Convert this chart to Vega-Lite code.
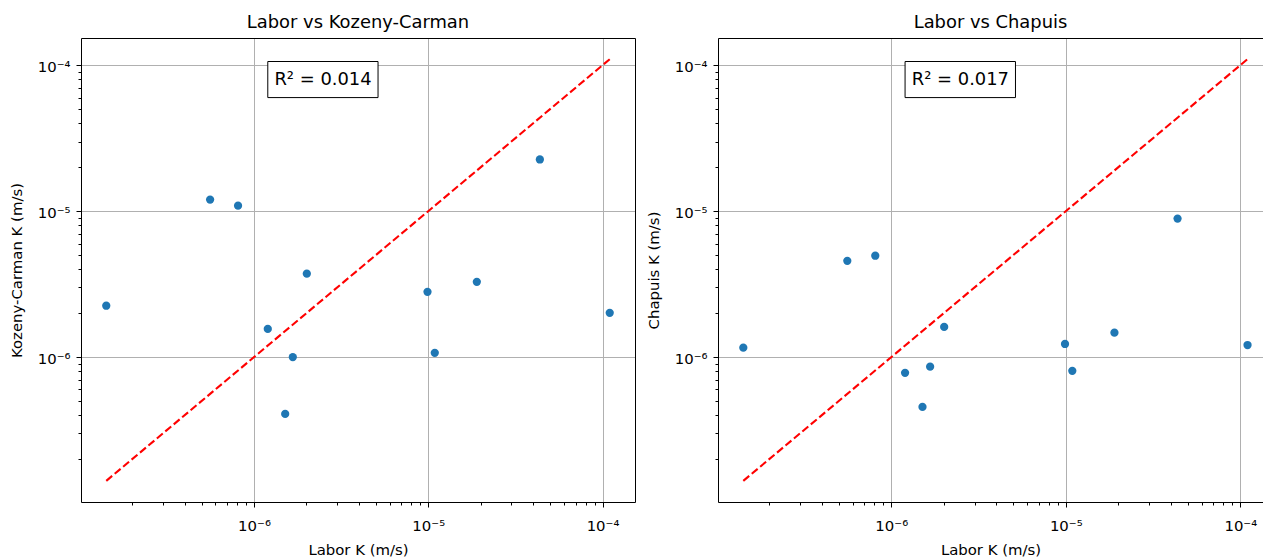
{
  "$schema": "https://vega.github.io/schema/vega-lite/v6.json",
  "padding": {"left": 9, "top": 14, "right": 0, "bottom": 0},
  "spacing": 11,
  "datasets": {
    "points": [
      {"model": "Kozeny-Carman", "labor": 1.42e-7, "k": 2.25e-6},
      {"model": "Kozeny-Carman", "labor": 5.6e-7, "k": 1.2e-5},
      {"model": "Kozeny-Carman", "labor": 8.1e-7, "k": 1.09e-5},
      {"model": "Kozeny-Carman", "labor": 1.2e-6, "k": 1.56e-6},
      {"model": "Kozeny-Carman", "labor": 2.01e-6, "k": 3.73e-6},
      {"model": "Kozeny-Carman", "labor": 1.67e-6, "k": 1.0e-6},
      {"model": "Kozeny-Carman", "labor": 1.51e-6, "k": 4.08e-7},
      {"model": "Kozeny-Carman", "labor": 9.9e-6, "k": 2.8e-6},
      {"model": "Kozeny-Carman", "labor": 1.09e-5, "k": 1.07e-6},
      {"model": "Kozeny-Carman", "labor": 1.9e-5, "k": 3.28e-6},
      {"model": "Kozeny-Carman", "labor": 4.37e-5, "k": 2.26e-5},
      {"model": "Kozeny-Carman", "labor": 1.1e-4, "k": 2.01e-6},
      {"model": "Chapuis", "labor": 1.42e-7, "k": 1.16e-6},
      {"model": "Chapuis", "labor": 5.6e-7, "k": 4.57e-6},
      {"model": "Chapuis", "labor": 8.1e-7, "k": 4.95e-6},
      {"model": "Chapuis", "labor": 1.2e-6, "k": 7.8e-7},
      {"model": "Chapuis", "labor": 2.01e-6, "k": 1.61e-6},
      {"model": "Chapuis", "labor": 1.67e-6, "k": 8.6e-7},
      {"model": "Chapuis", "labor": 1.51e-6, "k": 4.56e-7},
      {"model": "Chapuis", "labor": 9.9e-6, "k": 1.23e-6},
      {"model": "Chapuis", "labor": 1.09e-5, "k": 8.05e-7},
      {"model": "Chapuis", "labor": 1.9e-5, "k": 1.47e-6},
      {"model": "Chapuis", "labor": 4.37e-5, "k": 8.89e-6},
      {"model": "Chapuis", "labor": 1.1e-4, "k": 1.21e-6}
    ],
    "line": [
      {"x": 1.42e-7, "y": 1.42e-7},
      {"x": 1.1e-4, "y": 1.1e-4}
    ],
    "ann": [
      {"model": "Kozeny-Carman", "label": "R² = 0.014", "x": 2.49e-6, "y": 7.97e-5, "x1": 1.2e-6, "x2": 5.15e-6, "y1": 6.0e-5, "y2": 1.06e-4},
      {"model": "Chapuis", "label": "R² = 0.017", "x": 2.49e-6, "y": 7.97e-5, "x1": 1.2e-6, "x2": 5.15e-6, "y1": 6.0e-5, "y2": 1.06e-4}
    ]
  },
  "hconcat": [
    {
      "width": 554,
      "height": 464,
      "title": {"text": "Labor vs Kozeny-Carman"},
      "resolve": {"axis": {"x": "independent", "y": "independent"}},
      "layer": [
        {
          "data": {"name": "points"},
          "transform": [{"filter": "datum.model === 'Kozeny-Carman'"}],
          "mark": {"type": "circle", "size": 68, "opacity": 1, "color": "#1f77b4"},
          "encoding": {
            "x": {"field": "labor", "type": "quantitative",
              "scale": {"type": "log", "domain": [1.017e-7, 1.536e-4], "nice": false},
              "axis": {"orient": "bottom", "values": [1e-6, 1e-5, 1e-4], "grid": true, "title": "Labor K (m/s)", "labelPadding": 11, "titlePadding": 10,
                "labelExpr": "datum.value < 3e-6 ? '10⁻⁶' : datum.value < 3e-5 ? '10⁻⁵' : '10⁻⁴'"}},
            "y": {"field": "k", "type": "quantitative",
              "scale": {"type": "log", "domain": [1.017e-7, 1.536e-4], "nice": false},
              "axis": {"orient": "left", "values": [1e-6, 1e-5, 1e-4], "grid": true, "title": "Kozeny-Carman K (m/s)", "labelPadding": 6, "labelOffset": 2, "titlePadding": 13,
                "labelExpr": "datum.value < 3e-6 ? '10⁻⁶' : datum.value < 3e-5 ? '10⁻⁵' : '10⁻⁴'"}}
          }
        },
        {
          "data": {"name": "line"},
          "mark": {"type": "line", "color": "red", "strokeWidth": 2.1, "strokeDash": [7.7, 3.3]},
          "encoding": {
            "x": {"field": "x", "type": "quantitative",
              "scale": {"type": "log", "domain": [1.017e-7, 1.536e-4], "nice": false},
              "axis": {"orient": "bottom", "values": [2e-7, 3e-7, 4e-7, 5e-7, 6e-7, 7e-7, 8e-7, 9e-7, 2e-6, 3e-6, 4e-6, 5e-6, 6e-6, 7e-6, 8e-6, 9e-6, 2e-5, 3e-5, 4e-5, 5e-5, 6e-5, 7e-5, 8e-5, 9e-5],
                "grid": false, "labels": false, "domain": false, "tickSize": 3, "title": null}},
            "y": {"field": "y", "type": "quantitative",
              "scale": {"type": "log", "domain": [1.017e-7, 1.536e-4], "nice": false},
              "axis": {"orient": "left", "values": [2e-7, 3e-7, 4e-7, 5e-7, 6e-7, 7e-7, 8e-7, 9e-7, 2e-6, 3e-6, 4e-6, 5e-6, 6e-6, 7e-6, 8e-6, 9e-6, 2e-5, 3e-5, 4e-5, 5e-5, 6e-5, 7e-5, 8e-5, 9e-5],
                "grid": false, "labels": false, "domain": false, "tickSize": 3, "title": null}}
          }
        },
        {
          "data": {"name": "ann"},
          "transform": [{"filter": "datum.model === 'Kozeny-Carman'"}],
          "mark": {"type": "rect", "fill": "white", "stroke": "black", "strokeWidth": 1},
          "encoding": {
            "x": {"field": "x1", "type": "quantitative",
              "scale": {"type": "log", "domain": [1.017e-7, 1.536e-4], "nice": false},
              "axis": {"orient": "top", "values": [], "grid": false, "labels": false, "ticks": false, "domain": true, "title": null}},
            "x2": {"field": "x2"},
            "y": {"field": "y1", "type": "quantitative",
              "scale": {"type": "log", "domain": [1.017e-7, 1.536e-4], "nice": false},
              "axis": {"orient": "right", "values": [], "grid": false, "labels": false, "ticks": false, "domain": true, "title": null}},
            "y2": {"field": "y2"}
          }
        },
        {
          "data": {"name": "ann"},
          "transform": [{"filter": "datum.model === 'Kozeny-Carman'"}],
          "mark": {"type": "text", "font": "DejaVu Sans", "fontSize": 17.9, "color": "black", "align": "center", "baseline": "middle"},
          "encoding": {
            "x": {"field": "x", "type": "quantitative",
              "scale": {"type": "log", "domain": [1.017e-7, 1.536e-4], "nice": false}, "axis": null},
            "y": {"field": "y", "type": "quantitative",
              "scale": {"type": "log", "domain": [1.017e-7, 1.536e-4], "nice": false}, "axis": null},
            "text": {"field": "label"}
          }
        }
      ]
    },
    {
      "width": 545,
      "height": 464,
      "title": {"text": "Labor vs Chapuis"},
      "resolve": {"axis": {"x": "independent", "y": "independent"}},
      "layer": [
        {
          "data": {"name": "points"},
          "transform": [{"filter": "datum.model === 'Chapuis'"}],
          "mark": {"type": "circle", "size": 68, "opacity": 1, "color": "#1f77b4"},
          "encoding": {
            "x": {"field": "labor", "type": "quantitative",
              "scale": {"type": "log", "domain": [1.017e-7, 1.349e-4], "nice": false},
              "axis": {"orient": "bottom", "values": [1e-6, 1e-5, 1e-4], "grid": true, "title": "Labor K (m/s)", "labelPadding": 11, "titlePadding": 10,
                "labelExpr": "datum.value < 3e-6 ? '10⁻⁶' : datum.value < 3e-5 ? '10⁻⁵' : '10⁻⁴'"}},
            "y": {"field": "k", "type": "quantitative",
              "scale": {"type": "log", "domain": [1.017e-7, 1.536e-4], "nice": false},
              "axis": {"orient": "left", "values": [1e-6, 1e-5, 1e-4], "grid": true, "title": "Chapuis K (m/s)", "labelPadding": 6, "labelOffset": 2, "titlePadding": 13,
                "labelExpr": "datum.value < 3e-6 ? '10⁻⁶' : datum.value < 3e-5 ? '10⁻⁵' : '10⁻⁴'"}}
          }
        },
        {
          "data": {"name": "line"},
          "mark": {"type": "line", "color": "red", "strokeWidth": 2.1, "strokeDash": [7.7, 3.3]},
          "encoding": {
            "x": {"field": "x", "type": "quantitative",
              "scale": {"type": "log", "domain": [1.017e-7, 1.349e-4], "nice": false},
              "axis": {"orient": "bottom", "values": [2e-7, 3e-7, 4e-7, 5e-7, 6e-7, 7e-7, 8e-7, 9e-7, 2e-6, 3e-6, 4e-6, 5e-6, 6e-6, 7e-6, 8e-6, 9e-6, 2e-5, 3e-5, 4e-5, 5e-5, 6e-5, 7e-5, 8e-5, 9e-5],
                "grid": false, "labels": false, "domain": false, "tickSize": 3, "title": null}},
            "y": {"field": "y", "type": "quantitative",
              "scale": {"type": "log", "domain": [1.017e-7, 1.536e-4], "nice": false},
              "axis": {"orient": "left", "values": [2e-7, 3e-7, 4e-7, 5e-7, 6e-7, 7e-7, 8e-7, 9e-7, 2e-6, 3e-6, 4e-6, 5e-6, 6e-6, 7e-6, 8e-6, 9e-6, 2e-5, 3e-5, 4e-5, 5e-5, 6e-5, 7e-5, 8e-5, 9e-5],
                "grid": false, "labels": false, "domain": false, "tickSize": 3, "title": null}}
          }
        },
        {
          "data": {"name": "ann"},
          "transform": [{"filter": "datum.model === 'Chapuis'"}],
          "mark": {"type": "rect", "fill": "white", "stroke": "black", "strokeWidth": 1},
          "encoding": {
            "x": {"field": "x1", "type": "quantitative",
              "scale": {"type": "log", "domain": [1.017e-7, 1.349e-4], "nice": false},
              "axis": {"orient": "top", "values": [], "grid": false, "labels": false, "ticks": false, "domain": true, "title": null}},
            "x2": {"field": "x2"},
            "y": {"field": "y1", "type": "quantitative",
              "scale": {"type": "log", "domain": [1.017e-7, 1.536e-4], "nice": false}, "axis": null},
            "y2": {"field": "y2"}
          }
        },
        {
          "data": {"name": "ann"},
          "transform": [{"filter": "datum.model === 'Chapuis'"}],
          "mark": {"type": "text", "font": "DejaVu Sans", "fontSize": 17.9, "color": "black", "align": "center", "baseline": "middle"},
          "encoding": {
            "x": {"field": "x", "type": "quantitative",
              "scale": {"type": "log", "domain": [1.017e-7, 1.349e-4], "nice": false}, "axis": null},
            "y": {"field": "y", "type": "quantitative",
              "scale": {"type": "log", "domain": [1.017e-7, 1.536e-4], "nice": false}, "axis": null},
            "text": {"field": "label"}
          }
        }
      ]
    }
  ],
  "config": {
    "view": {"stroke": null},
    "font": "DejaVu Sans",
    "title": {"font": "DejaVu Sans", "fontSize": 17.9, "fontWeight": "normal", "color": "#000", "anchor": "middle", "offset": 6},
    "axis": {
      "domainColor": "#000", "domainWidth": 1, "tickColor": "#000", "tickWidth": 1, "tickSize": 5,
      "labelColor": "#000", "labelFont": "DejaVu Sans", "labelFontSize": 14.9, "labelPadding": 4,
      "titleColor": "#000", "titleFont": "DejaVu Sans", "titleFontSize": 14.9, "titleFontWeight": "normal", "titlePadding": 8,
      "gridColor": "#b0b0b0", "gridWidth": 1
    }
  }
}
